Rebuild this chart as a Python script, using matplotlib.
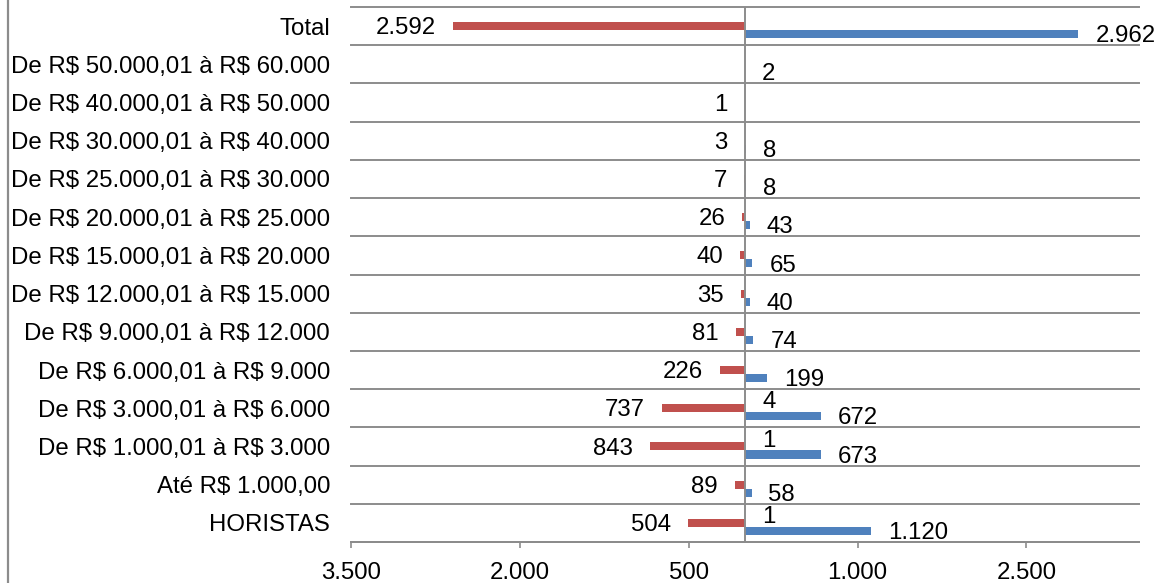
import matplotlib
matplotlib.use("Agg")
import matplotlib.pyplot as plt
from matplotlib.lines import Line2D

plt.rcParams['font.family'] = ['Liberation Sans', 'DejaVu Sans']
plt.rcParams['text.parse_math'] = False

# Salary bands, top to bottom
categories = [
    "Total",
    "De R$ 50.000,01 à R$ 60.000",
    "De R$ 40.000,01 à R$ 50.000",
    "De R$ 30.000,01 à R$ 40.000",
    "De R$ 25.000,01 à R$ 30.000",
    "De R$ 20.000,01 à R$ 25.000",
    "De R$ 15.000,01 à R$ 20.000",
    "De R$ 12.000,01 à R$ 15.000",
    "De R$ 9.000,01 à R$ 12.000",
    "De R$ 6.000,01 à R$ 9.000",
    "De R$ 3.000,01 à R$ 6.000",
    "De R$ 1.000,01 à R$ 3.000",
    "Até R$ 1.000,00",
    "HORISTAS",
]
# left-hand series (drawn to the left of zero)
left_values = [2592, None, 1, 3, 7, 26, 40, 35, 81, 226, 737, 843, 89, 504]
# right-hand series
right_values = [2962, 2, None, 8, 8, 43, 65, 40, 74, 199, 672, 673, 58, 1120]
# small third series
third_values = [None, None, None, None, None, None, None, None, None, None, 4, 1, None, 1]

xticks = [-3500, -2000, -500, 1000, 2500]

RED = "#C0504D"
BLUE = "#4F81BD"
GREEN = "#9BBB59"
GRID = "#8C8C8C"
FS = 17.3


def fmt(v):
    return f"{abs(int(v)):,}".replace(",", ".")


W, H = 1160, 583
fig = plt.figure(figsize=(W / 100, H / 100), dpi=100)
ax = fig.add_axes([351 / W, (H - 542) / H, (1139 - 351) / W, (542 - 7) / H])

n = len(categories)
ys = list(range(n))
h = 0.21

for i, (lv, rv, tv) in enumerate(zip(left_values, right_values, third_values)):
    if lv is not None:
        ax.barh(i, -lv, height=h, color=RED, zorder=2)
        ax.annotate(fmt(lv), xy=(-lv, i), xytext=(-12.2, -1.5), textcoords="offset points",
                    ha="right", va="center", fontsize=FS, color="black")
    if rv is not None:
        ax.barh(i + h, rv, height=h, color=BLUE, zorder=2)
        ax.annotate(fmt(rv), xy=(rv, i + h), xytext=(12.2, -1.5), textcoords="offset points",
                    ha="left", va="center", fontsize=FS, color="black")
    if tv is not None:
        ax.barh(i - h, tv, height=h, color=GREEN, zorder=2)
        ax.annotate(fmt(tv), xy=(tv, i - h), xytext=(12.2, -1.5), textcoords="offset points",
                    ha="left", va="center", fontsize=FS, color="black")

ax.set_xlim(-3500, 3500)
ax.set_ylim(n - 0.5, -0.5)

# horizontal separators between categories
for k in range(n + 1):
    ax.axhline(k - 0.5, color=GRID, lw=1.4, zorder=1, clip_on=False)
# zero line
ax.axvline(0, color=GRID, lw=1.4, zorder=3)

ax.set_xticks(xticks)
ax.set_xticklabels([fmt(t) for t in xticks], fontsize=FS)
ax.tick_params(axis="x", direction="out", length=4, width=1.2, color=GRID, pad=10.5)

ax.set_yticks(ys)
ax.set_yticklabels(categories, fontsize=FS)
ax.tick_params(axis="y", length=0, pad=15)

for side in ("left", "right", "top"):
    ax.spines[side].set_visible(False)
ax.spines["bottom"].set_color(GRID)
ax.spines["bottom"].set_linewidth(1.4)

# chart border on the left edge
fig.add_artist(Line2D([7.5 / W, 7.5 / W], [0, 1], transform=fig.transFigure,
                      color="#8C8C8C", lw=1.6))

fig.savefig("out.png", dpi=100)
